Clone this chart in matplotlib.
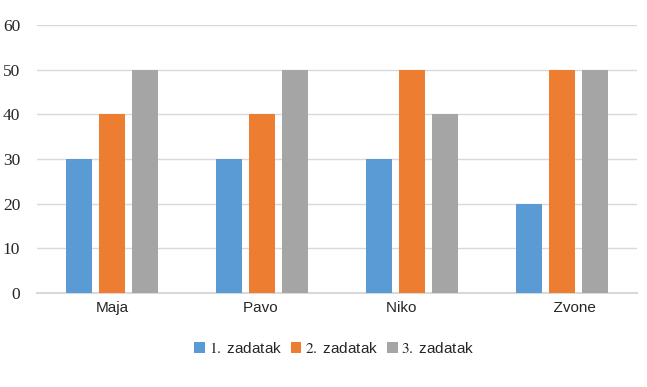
import numpy as np
import matplotlib.pyplot as plt

# Data
names = ["Maja", "Pavo", "Niko", "Zvone"]
zad1 = [30, 30, 30, 20]
zad2 = [40, 40, 50, 50]
zad3 = [50, 50, 40, 50]
series_labels = ["1. zadatak", "2. zadatak", "3. zadatak"]
colors = ["#5B9BD5", "#ED7D31", "#A5A5A5"]

plt.rcParams['mathtext.fontset'] = 'stix'

fig = plt.figure(figsize=(6.47, 3.87), dpi=100)
ax = fig.add_axes([0.057, 0.243, 0.928, 0.692])

x = np.arange(len(names))
width = 0.175
step = 0.22
bars = []
for i, (vals, col) in enumerate(zip([zad1, zad2, zad3], colors)):
    b = ax.bar(x + (i - 1) * step, vals, width, color=col, zorder=3)
    bars.append(b)

ax.set_xlim(-0.5, 3.5)
ax.set_ylim(0, 60)
ax.set_yticks(range(0, 61, 10))
ax.set_yticklabels([str(v) for v in range(0, 61, 10)], family='Liberation Serif', fontsize=12.5, color='#262626')
ax.set_xticks(x)
ax.set_xticklabels(["Maja", "Pavo ", "Niko     ", "      Zvone"], family='Liberation Sans', fontsize=11, color='#262626')
ax.tick_params(length=0, pad=6)
ax.tick_params(axis='y', pad=12)
ax.grid(axis='y', color='#D9D9D9', linewidth=1, zorder=0)
for s in ['top', 'right', 'left']:
    ax.spines[s].set_visible(False)
ax.spines['bottom'].set_color('#D9D9D9')
ax.spines['bottom'].set_linewidth(1.5)

# serif numbers, sans words, like the original legend
leg_labels = [r"$%s.$ %s" % tuple(lbl.split('. ')) for lbl in series_labels]
leg = fig.legend(bars, leg_labels, loc='center', bbox_to_anchor=(0.517, 0.1), ncol=3,
                 frameon=False, handlelength=0.7, handleheight=0.7, handletextpad=0.25,
                 columnspacing=0.55, prop={'family': 'Liberation Sans', 'size': 11})
for t in leg.get_texts():
    t.set_color('#262626')

fig.savefig("out.png", dpi=100)
